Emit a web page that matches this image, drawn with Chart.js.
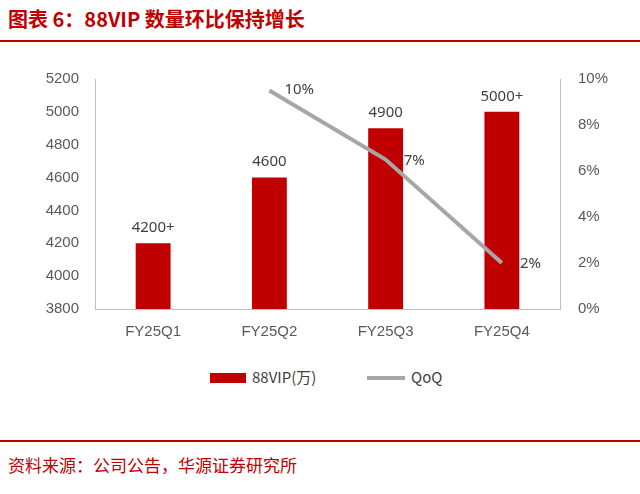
<!DOCTYPE html>
<html><head><meta charset="utf-8">
<script src="https://cdn.jsdelivr.net/npm/chart.js@4"></script>
<style>
body{margin:0;width:640px;height:494px;background:#fff;position:relative;font-family:"Noto Sans CJK SC","Noto Sans",sans-serif;overflow:hidden}
#title{position:absolute;left:8px;top:4px;color:#c00000;font-size:20px;font-weight:bold}
.rl{position:absolute;left:0;width:640px;height:2px;background:#c00000}
#src{position:absolute;left:8px;top:452px;color:#c00000;font-size:17px}
#wrap{position:absolute;left:0;top:60px;width:640px;height:285px}
.lg{position:absolute;top:366px;font-size:15px;color:#404040;font-family:"Noto Sans CJK SC",sans-serif}
</style></head><body>
<div id="title">图表 6：88VIP 数量环比保持增长</div>
<div class="rl" style="top:40px"></div>
<div id="wrap"><canvas id="c" width="640" height="285"></canvas></div>
<div style="position:absolute;left:210px;top:373px;width:36px;height:10px;background:#c00000"></div>
<div class="lg" style="left:252px">88VIP(万)</div>
<div style="position:absolute;left:367px;top:376px;width:38px;height:4px;background:#a6a6a6"></div>
<div class="lg" style="left:411px">QoQ</div>
<div class="rl" style="top:440px"></div>
<div id="src">资料来源：公司公告，华源证券研究所</div>
<script>
const categories=["FY25Q1","FY25Q2","FY25Q3","FY25Q4"];
const vipValues=[4200,4600,4900,5000];
const vipLabels=["4200+","4600","4900","5000+"];
const qoqValues=[null,9.5,6.5,2.0];
const qoqLabels=["","10%","7%","2%"];
const labelPlugin={id:'lbl',afterDatasetsDraw(ch){
 const ctx=ch.ctx;ctx.save();ctx.font='15px "Noto Sans",sans-serif';ctx.fillStyle='#404040';
 const m0=ch.getDatasetMeta(0),m1=ch.getDatasetMeta(1);
 ctx.textAlign='center';ctx.textBaseline='bottom';
 m0.data.forEach((b,i)=>ctx.fillText(vipLabels[i],b.x,b.y-8));
 ctx.textAlign='left';ctx.textBaseline='middle';
 m1.data.forEach((p,i)=>{if(qoqLabels[i])ctx.fillText(qoqLabels[i],p.x+(i==1?15:18),p.y+(i==1?-1:1));});
 ctx.restore();}};
new Chart(document.getElementById('c'),{
 data:{labels:categories,datasets:[
  {type:'bar',data:vipValues,backgroundColor:'#c00000',barPercentage:0.3,categoryPercentage:1,yAxisID:'y',order:2},
  {type:'line',data:qoqValues,borderColor:'#a6a6a6',borderWidth:4,pointRadius:0,yAxisID:'y1',order:1}]},
 options:{responsive:false,animation:false,layout:{padding:{top:17,left:0,right:0,bottom:0}},
  plugins:{legend:{display:false},tooltip:{enabled:false}},
  scales:{
   x:{grid:{display:false},border:{color:'#bfbfbf'},ticks:{color:'#595959',font:{size:15},padding:6},afterFit(s){s.height=36;}},
   y:{position:'left',min:3800,max:5200,grid:{display:false},border:{color:'#bfbfbf'},ticks:{stepSize:200,color:'#595959',font:{size:15},padding:8,callback:v=>String(v)},afterFit(s){s.width=95;}},
   y1:{position:'right',min:0,max:10,grid:{display:false},border:{color:'#bfbfbf'},ticks:{stepSize:2,color:'#595959',font:{size:15},padding:10,callback:v=>v+'%'},afterFit(s){s.width=80;}}
  }},plugins:[labelPlugin]});
</script></body></html>
